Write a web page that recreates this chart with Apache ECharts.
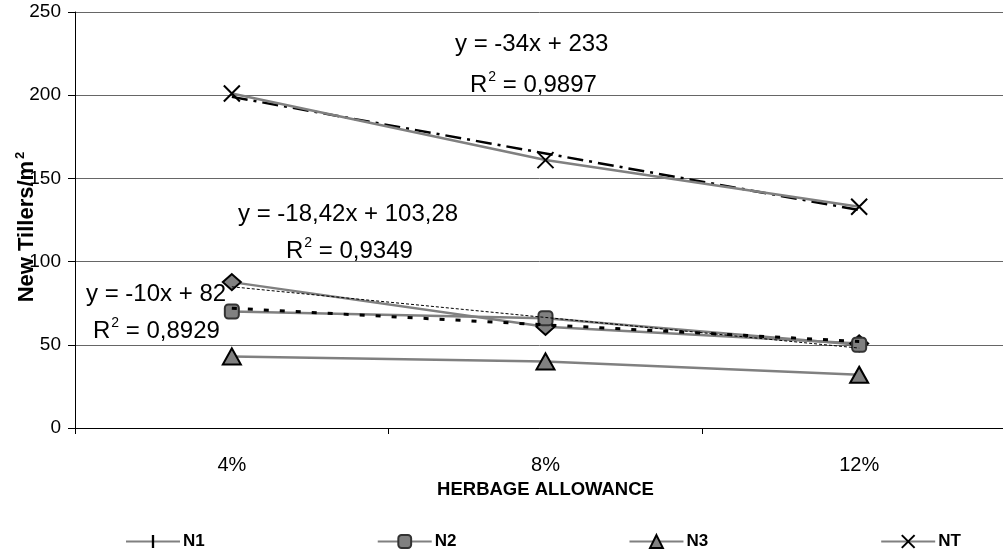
<!DOCTYPE html>
<html>
<head>
<meta charset="utf-8">
<script src="https://cdn.jsdelivr.net/npm/echarts@6/dist/echarts.min.js"></script>
<style>
html,body{margin:0;padding:0;background:#fff;}
#chart{width:1003px;height:552px;}
</style>
</head>
<body>
<div id="chart"></div>
<script>
var categories = ['4%', '8%', '12%'];
var yTicks = [0, 50, 100, 150, 200, 250];
var n1 = [87.67, 60.82, 50.83];
var n2 = [70, 66, 50];
var n3 = [43, 40, 32];
var nt = [201, 161, 133];
// trend line values (from the displayed equations, at x = 1, 2, 3)
var n1Trend = [84.86, 66.44, 48.02];
var n2Trend = [72, 62, 52];
var ntTrend = [199, 165, 131];

var FONT = '"Liberation Sans", Arial, sans-serif';
var GRAY = '#808080';
// legend marker for N1: a thin vertical tick (tiny corner dots keep the square box)
var TICK = 'path://M0,0L0.01,0L0,0.01Z M10,10L9.99,10L10,9.99Z M4.1,0h1.8v10h-1.8z';

var chart = echarts.init(document.getElementById('chart'), null, {renderer: 'canvas'});

function eqText(x, y, main, sup, rest) {
  return {
    type: 'text', left: x, top: y, z: 100,
    style: {
      rich: {
        t: {fontSize: 24, fontFamily: FONT, fill: '#000', lineHeight: 30},
        s: {fontSize: 14, fontFamily: FONT, fill: '#000', verticalAlign: 'top', lineHeight: 30, padding: [0, 0, 12, 1]}
      },
      text: sup ? '{t|' + main + '}{s|' + sup + '}{t|' + rest + '}' : '{t|' + main + '}'
    }
  };
}

var option = {
  backgroundColor: '#fff',
  animation: false,
  grid: {left: 75, top: 12, right: -13, bottom: 124, containLabel: false, outerBoundsMode: 'none'},
  xAxis: {
    type: 'category',
    data: categories,
    boundaryGap: true,
    axisLine: {lineStyle: {color: '#000', width: 1}},
    axisTick: {show: true, length: 6, lineStyle: {color: '#000'}},
    axisLabel: {fontSize: 20, fontFamily: FONT, color: '#000', margin: 27},
    name: 'HERBAGE ALLOWANCE',
    nameLocation: 'middle',
    nameGap: 52,
    nameMoveOverlap: false,
    nameTextStyle: {fontSize: 18.5, fontWeight: 'bold', fontFamily: FONT, color: '#000'}
  },
  yAxis: {
    type: 'value',
    min: yTicks[0],
    max: yTicks[yTicks.length - 1],
    interval: yTicks[1] - yTicks[0],
    axisLine: {show: true, lineStyle: {color: '#000', width: 1}},
    axisTick: {show: true, length: 7, lineStyle: {color: '#000'}},
    axisLabel: {fontSize: 19, fontFamily: FONT, color: '#000', margin: 14},
    splitLine: {show: true, lineStyle: {color: '#666', width: 1}},
    name: 'New Tillers/m{s|2}',
    nameLocation: 'middle',
    nameRotate: 90,
    nameGap: 36,
    nameMoveOverlap: false,
    nameTextStyle: {
      fontSize: 22, fontWeight: 'bold', fontFamily: FONT, color: '#000',
      padding: [0, 14, 0, 0],
      rich: {s: {fontSize: 13, fontWeight: 'bold', fontFamily: FONT, color: '#000', verticalAlign: 'top', padding: [0, 0, 12, 2]}}
    }
  },
  legend: {
    data: ['N1', 'N2', 'N3', 'NT'],
    left: 120,
    top: 528,
    itemWidth: 54,
    itemHeight: 16,
    itemGap: 172,
    textStyle: {fontSize: 17, fontWeight: 'bold', fontFamily: FONT, color: '#000', padding: [0, 0, 0, -2]}
  },
  graphic: [
    eqText(455, 32, 'y = -34x + 233'),
    eqText(470, 70, 'R', '2', ' = 0,9897'),
    eqText(238, 202, 'y = -18,42x + 103,28'),
    eqText(286, 236, 'R', '2', ' = 0,9349'),
    eqText(86, 282, 'y = -10x + 82'),
    eqText(93, 316, 'R', '2', ' = 0,8929')
  ],
  series: [
    {
      name: 'N1trend', type: 'line', data: n1Trend, symbol: 'none', z: 3,
      lineStyle: {color: '#000', width: 1, type: [3, 2]}
    },
    {
      name: 'N2trend', type: 'line', data: n2Trend, symbol: 'none', z: 3,
      lineStyle: {color: '#000', width: 3, type: [5, 11]}
    },
    {
      name: 'NTtrend', type: 'line', data: ntTrend, symbol: 'none', z: 3,
      lineStyle: {color: '#000', width: 2.5, type: [16, 6, 3, 6]}
    },
    {
      name: 'N1', type: 'line', z: 2,
      data: n1.map(function (v) {
        return {value: v, symbol: 'diamond', symbolSize: [18, 16],
          itemStyle: {color: GRAY, borderColor: '#000', borderWidth: 2}};
      }),
      symbol: TICK, symbolSize: 14,
      lineStyle: {color: GRAY, width: 2.5},
      itemStyle: {color: '#000', borderWidth: 0}
    },
    {
      name: 'N2', type: 'line', data: n2, z: 2,
      symbol: 'roundRect', symbolSize: 14,
      lineStyle: {color: GRAY, width: 2.5},
      itemStyle: {color: GRAY, borderColor: '#333', borderWidth: 2}
    },
    {
      name: 'N3', type: 'line', data: n3, z: 2,
      symbol: 'triangle', symbolSize: [18, 16],
      lineStyle: {color: GRAY, width: 2.5},
      itemStyle: {color: GRAY, borderColor: '#000', borderWidth: 2}
    },
    {
      name: 'NT', type: 'line', data: nt, z: 4,
      symbol: 'path://M0,0L10,10M10,0L0,10', symbolSize: 16,
      lineStyle: {color: GRAY, width: 2.5},
      itemStyle: {color: '#000', borderColor: '#000', borderWidth: 2}
    }
  ]
};
chart.setOption(option);
</script>
</body>
</html>
